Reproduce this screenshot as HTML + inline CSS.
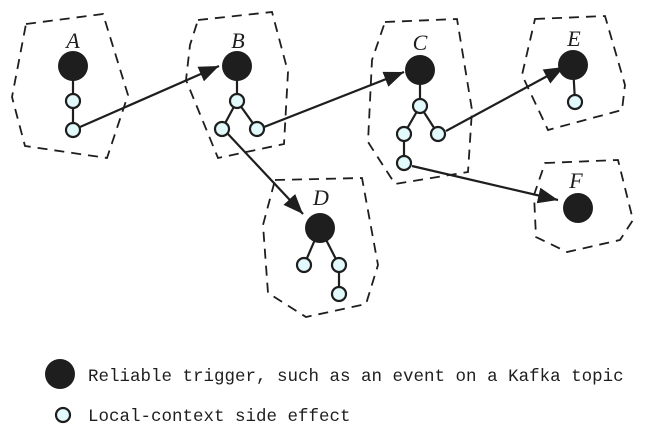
<!DOCTYPE html>
<html><head><meta charset="utf-8"><style>
html,body{margin:0;padding:0;background:#fff;width:645px;height:439px;overflow:hidden}
</style></head><body>
<svg width="645" height="439" viewBox="0 0 645 439" xmlns="http://www.w3.org/2000/svg">
<defs>
<marker id="a2" markerWidth="20" markerHeight="16" refX="20" refY="8" orient="auto" markerUnits="userSpaceOnUse"><path d="M0,0 L20,8 L0,16 z" fill="#1e1e1e"/></marker></defs>
<g fill="none" stroke="#1e1e1e" stroke-width="1.8" stroke-dasharray="10,7">
<polygon points="26,24 103,14 128,95 107,158 25,146 12,97"/>
<polygon points="198,20 272,12 288,72 284,144 218,158 186,80 190,45"/>
<polygon points="385,22 457,19 472,110 468,172 395,184 368,142 372,60"/>
<polygon points="535,19 605,16 625,85 622,110 548,130 522,75"/>
<polygon points="545,163 618,160 633,220 620,240 567,252 536,237 534,195"/>
<polygon points="275,180 362,178 378,265 366,304 306,317 268,293 263,225"/>
</g>
<g stroke="#1e1e1e" stroke-width="2.2">
<line x1="73" y1="66" x2="73" y2="130"/>
<line x1="237" y1="66" x2="237" y2="101"/><line x1="237" y1="101" x2="222" y2="129"/><line x1="237" y1="101" x2="257" y2="129"/>
<line x1="420" y1="70" x2="420" y2="106"/><line x1="420" y1="106" x2="404" y2="134"/><line x1="420" y1="106" x2="438" y2="134"/><line x1="404" y1="134" x2="404" y2="163"/>
<line x1="573" y1="65" x2="575" y2="102"/>
<line x1="320" y1="228" x2="304" y2="265"/><line x1="320" y1="228" x2="339" y2="265"/><line x1="339" y1="265" x2="339" y2="294"/>
<line x1="80" y1="127" x2="219" y2="66" marker-end="url(#a2)"/>
<line x1="264" y1="127" x2="404" y2="72" marker-end="url(#a2)"/>
<line x1="446" y1="131" x2="564" y2="67" marker-end="url(#a2)"/>
<line x1="412" y1="166" x2="558" y2="200" marker-end="url(#a2)"/>
<line x1="228" y1="134" x2="303" y2="214" marker-end="url(#a2)"/>
</g>
<g fill="#1e1e1e">
<circle cx="73" cy="66" r="15"/><circle cx="237" cy="66" r="15"/><circle cx="420" cy="70" r="15"/>
<circle cx="573" cy="65" r="15"/><circle cx="578" cy="208" r="15"/><circle cx="320" cy="228" r="15"/>
<circle cx="60" cy="374" r="15"/>
</g>
<g fill="#e3fafc" stroke="#1e1e1e" stroke-width="2.2">
<circle cx="73" cy="101" r="7"/><circle cx="73" cy="130" r="7"/>
<circle cx="237" cy="101" r="7"/><circle cx="222" cy="129" r="7"/><circle cx="257" cy="129" r="7"/>
<circle cx="420" cy="106" r="7"/><circle cx="404" cy="134" r="7"/><circle cx="438" cy="134" r="7"/><circle cx="404" cy="163" r="7"/>
<circle cx="575" cy="102" r="7"/>
<circle cx="304" cy="265" r="7"/><circle cx="339" cy="265" r="7"/><circle cx="339" cy="294" r="7"/>
<circle cx="63" cy="415" r="7"/>
</g>
<g font-family="Liberation Serif, serif" font-size="22" fill="#1e1e1e" text-anchor="middle" font-style="italic">
<text x="73" y="48">A</text><text x="238" y="48">B</text><text x="420" y="50">C</text>
<text x="574" y="46">E</text><text x="576" y="188">F</text><text x="321" y="205">D</text>
</g>
<g font-family="Liberation Mono, monospace" font-size="17.5" fill="#1e1e1e">
<text x="88" y="381">Reliable trigger, such as an event on a Kafka topic</text>
<text x="88" y="421">Local-context side effect</text>
</g>
</svg>
</body></html>
